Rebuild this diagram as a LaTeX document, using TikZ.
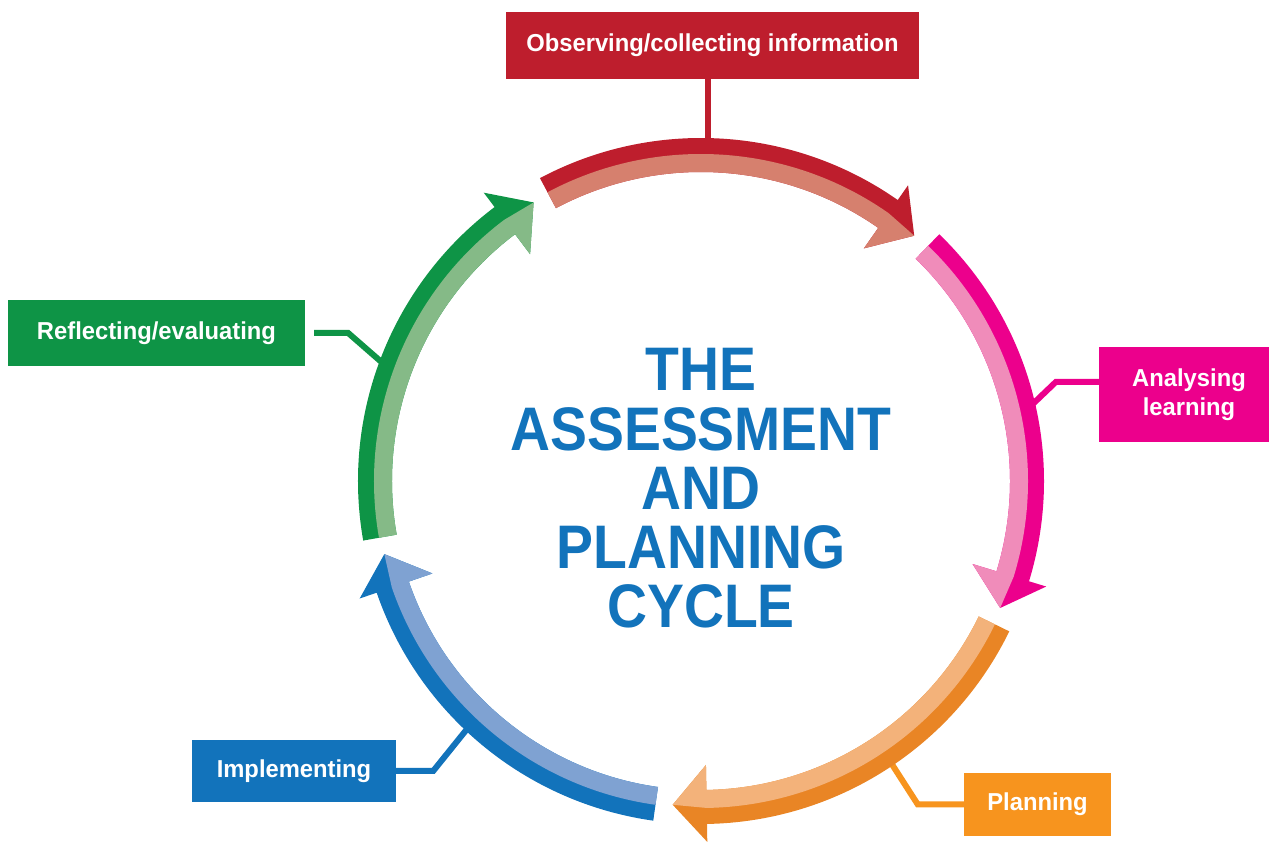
\documentclass[tikz,border=0pt]{standalone}
\usepackage{fontspec}
\newfontfamily\labelfont[FakeStretch=0.97]{Liberation Sans}
\newfontfamily\titlefont[FakeStretch=0.9]{Liberation Sans}
\definecolor{obsdark}{HTML}{BE1E2D}
\definecolor{obslight}{HTML}{D6806E}
\definecolor{anadark}{HTML}{EC008C}
\definecolor{analight}{HTML}{F08CBA}
\definecolor{plandark}{HTML}{E98525}
\definecolor{planlight}{HTML}{F3B27A}
\definecolor{planbox}{HTML}{F7941E}
\definecolor{impdark}{HTML}{1273BB}
\definecolor{implight}{HTML}{7FA2D2}
\definecolor{refdark}{HTML}{0E9446}
\definecolor{reflight}{HTML}{85BA87}
% one curved two-tone arrow: tail angle, dark colour, light colour
\newcommand{\cyclearc}[3]{%
\pgfmathsetmacro{\cbase}{#1-63}%
\pgfmathsetmacro{\ctip}{#1-69}%
\fill[#2] (#1:343) arc[start angle=#1, end angle=\cbase, radius=343] -- (\cbase:361) -- (\ctip:325) -- (\cbase:284) -- (\cbase:309) arc[start angle=\cbase, end angle=#1, radius=309] -- cycle;
\fill[#3] (#1:327) arc[start angle=#1, end angle=\cbase, radius=327] -- (\ctip:325) -- (\cbase:284) -- (\cbase:309) arc[start angle=\cbase, end angle=#1, radius=309] -- cycle;
}
\begin{document}
\begin{tikzpicture}[x=1pt,y=1pt,
  stage/.style={inner sep=0pt, text=white, align=center, font=\labelfont\bfseries\fontsize{24.5}{29.5}\selectfont},
  link/.style={line width=6pt}]
\useasboundingbox (0,0) rectangle (1269,846);
\node[stage,fill=obsdark,minimum width=413pt,minimum height=67pt] (obs) at (712.5,800.5) {Observing/collecting information};
\node[stage,fill=anadark,minimum width=180pt,minimum height=95pt] (ana) at (1189,451.5) {Analysing\\learning};
\node[stage,fill=planbox,minimum width=147pt,minimum height=63pt] (plan) at (1037.5,41.5) {Planning};
\node[stage,fill=impdark,minimum width=204pt,minimum height=62pt] (imp) at (294,75) {Implementing};
\node[stage,fill=refdark,minimum width=297pt,minimum height=66pt] (ref) at (156.5,513) {Reflecting/evaluating};
\begin{scope}[shift={(701,365)}]
\coordinate (cobs) at (88.75:336);
\coordinate (cana) at (12.7:337);
\coordinate (cplan) at (-56:337);
\coordinate (cimp) at (-133.4:336);
\coordinate (cref) at (159.9:336);
\end{scope}
\draw[link,obsdark] (obs.south -| cobs) -- (cobs);
\draw[link,anadark] ([yshift=12.5pt]ana.west) -- ++(-43,0) -- (cana);
\draw[link,planbox] (plan.west) -- ++(-46,0) -- (cplan);
\draw[link,impdark] (imp.east) -- ++(37,0) -- (cimp);
\draw[link,refdark] ([xshift=9pt]ref.east) -- ++(34,0) -- (cref);
\begin{scope}[shift={(701,365)}]
\cyclearc{118}{obsdark}{obslight}
\cyclearc{46}{anadark}{analight}
\cyclearc{-26}{plandark}{planlight}
\cyclearc{-98}{impdark}{implight}
\cyclearc{190}{refdark}{reflight}
\end{scope}
\node[inner sep=0pt,align=center,text=impdark,font=\titlefont\bfseries\fontsize{61.5}{59.3}\selectfont] (title) at (701,357.5) {THE\\ASSESSMENT\\AND\\PLANNING\\CYCLE};
\end{tikzpicture}
\end{document}
